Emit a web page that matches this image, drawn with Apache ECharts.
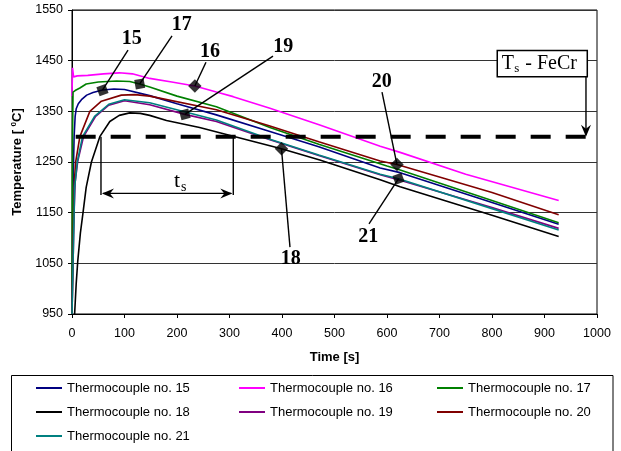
<!DOCTYPE html>
<html><head><meta charset="utf-8">
<script src="https://cdn.jsdelivr.net/npm/echarts@6/dist/echarts.min.js"></script>
<style>html,body{margin:0;padding:0;background:#fff}#c{width:621px;height:451px}</style>
</head><body><div id="c"></div>
<script>
// ---- data (time [s], temperature [°C]) ----
const names = ['Thermocouple no. 15','Thermocouple no. 16','Thermocouple no. 17','Thermocouple no. 18','Thermocouple no. 19','Thermocouple no. 20','Thermocouple no. 21'];
const colors = ['#000080','#FF00FF','#008000','#000000','#800080','#800000','#008080'];
const tc15 = [[0,950],[2,1200],[4,1300],[6,1340],[8,1355],[12,1365],[18,1373],[28,1382],[40,1387],[58,1392],[80,1394],[100,1393],[148,1381],[200,1365],[275,1343],[377,1310],[470,1280],[587,1238],[625,1229],[800,1170],[927,1127]];
const tc16 = [[0,1380],[1,1436],[3,1418],[10,1420],[30,1421],[60,1424],[90,1426],[115,1424],[148,1415],[190,1408],[234,1400],[275,1388],[307,1379],[377,1356],[472,1323],[587,1281],[625,1269],[750,1226],[927,1174]];
const tc17 = [[0,950],[1,1300],[2,1388],[6,1391],[15,1396],[27,1404],[50,1408],[85,1410],[110,1409],[129,1404],[148,1398],[200,1380],[275,1359],[377,1318],[470,1285],[600,1242],[625,1234],[800,1174],[927,1130]];
const tc18 = [[5,950],[8,1010],[11,1055],[16,1110],[21,1150],[27,1200],[37,1250],[53,1300],[72,1330],[90,1342],[110,1347],[130,1346],[148,1342],[180,1332],[243,1318],[307,1301],[399,1276],[472,1254],[587,1215],[625,1201],[800,1145],[927,1103]];
const tc19 = [[0,950],[4,1150],[6,1210],[11,1252],[22,1300],[45,1340],[70,1362],[100,1371],[148,1363],[215,1344],[275,1330],[377,1294],[470,1263],[587,1225],[625,1214],[800,1160],[927,1119]];
const tc20 = [[0,950],[3,1150],[5,1220],[7,1250],[15,1300],[34,1350],[56,1370],[94,1382],[120,1383],[148,1380],[275,1353],[377,1321],[470,1290],[587,1252],[619,1245],[800,1190],[927,1146]];
const tc21 = [[0,950],[3,1100],[5,1200],[10,1250],[20,1300],[43,1340],[70,1364],[100,1373],[148,1367],[275,1333],[377,1295],[470,1264],[587,1226],[622,1217],[800,1158],[927,1116]];
const seriesData = [tc15, tc16, tc17, tc18, tc19, tc20, tc21];

const solidusLine = [[7,1300],[1000,1300]];          // T_s - FeCr
const markerLabels = ['15','17','16','19','18','20','21'];
const markerPoints = [[58,1392],[129,1404],[234,1400],[215,1344],[399,1276],[619,1245],[622,1217]];
const labelCenters = [[113.7,1494],[209,1520],[263,1468],[402.5,1478],[416.6,1059],[590,1408.5],[564.4,1102.6]];
const leaderEnds   = [[106.7,1471],[190.5,1499],[255.2,1447],[382.9,1459],[415.2,1082],[590.5,1388],[565.7,1128]];
const tsBounds = [55.2, 307.2];   // time span above solidus (s)
const tsBottomT = 1185, tsArrowT = 1188, tsLabel = [209.5, 1212];
const feCrBox = [[810,1470],[981.5,1418.4]];
const feCrArrowX = 979;

// ---- styles ----
const markerRot = [20,10,45,15,45,45,20];
const sans = '"Liberation Sans", Arial, sans-serif';
const serif = '"Liberation Serif", "Times New Roman", serif';

const chart = echarts.init(document.getElementById('c'));
const lineSeries = seriesData.map((d,i)=>({
  name: names[i], type:'line', data:d, showSymbol:false, symbol:'none',
  lineStyle:{width:1.6,color:colors[i]}, itemStyle:{color:colors[i]}, z:2, animation:false
}));
const legendText = {fontFamily:sans,fontSize:13,color:'#000',lineHeight:14};
const legendBase = {orient:'vertical', top:381, itemWidth:26, itemHeight:2, itemGap:10, icon:'rect', selectedMode:false, textStyle:legendText, padding:0};

chart.setOption({
  animation:false,
  backgroundColor:'#fff',
  grid:{left:72, right:24, top:10, bottom:137, show:true, borderColor:'#000', borderWidth:1, backgroundColor:'transparent'},
  xAxis:{type:'value', min:0, max:1000, interval:100,
    name:'Time [s]', nameLocation:'middle', nameGap:37,
    nameTextStyle:{fontFamily:sans,fontSize:13,fontWeight:'bold',color:'#000'},
    axisLine:{lineStyle:{color:'#000'}}, axisTick:{show:true,length:4,lineStyle:{color:'#000'}},
    axisLabel:{fontFamily:sans,fontSize:12.5,color:'#000',margin:13,formatter:v=>String(v)}, splitLine:{show:false}},
  yAxis:{type:'value', min:950, max:1550, interval:100,
    name:'Temperature [ {sup|0}C]', nameLocation:'middle', nameGap:46, nameRotate:90,
    nameTextStyle:{fontFamily:sans,fontSize:13,fontWeight:'bold',color:'#000',
      rich:{sup:{fontFamily:sans,fontSize:8,fontWeight:'bold',color:'#000',verticalAlign:'top',padding:[0,0,7,0]}}},
    axisLine:{show:true,lineStyle:{color:'#000'}}, axisTick:{show:true,length:4,lineStyle:{color:'#000'}},
    axisLabel:{fontFamily:sans,fontSize:12.5,color:'#000',margin:9,formatter:v=>String(v)},
    splitLine:{show:true,lineStyle:{color:'#333',width:1}}},
  legend:[
    Object.assign({left:36, data:[names[0],names[3],names[6]]}, legendBase),
    Object.assign({left:239, data:[names[1],names[4]]}, legendBase),
    Object.assign({left:437, data:[names[2],names[5]]}, legendBase)
  ],
  series: lineSeries.concat([
    {type:'line', data:solidusLine, symbol:'none', z:5, silent:true,
     lineStyle:{color:'#000', width:4, type:[20,15]}},
    {type:'scatter', z:6, symbol:'rect', symbolSize:9.5, itemStyle:{color:'#000'},
     data: markerPoints.map((p,i)=>({value:p, symbolRotate:markerRot[i]}))}
  ])
});

function px(p){ return chart.convertToPixel({gridIndex:0}, p); }
const g = [];
// legend frame
g.push({type:'rect', shape:{x:11.5,y:375.5,width:601.5,height:90}, style:{fill:'none',stroke:'#000',lineWidth:1}, z:1});
// leader lines and labels
markerPoints.forEach((p,i)=>{
  const a = px(p), b = px(leaderEnds[i]), c = px(labelCenters[i]);
  g.push({type:'line', shape:{x1:a[0],y1:a[1],x2:b[0],y2:b[1]}, style:{stroke:'#000',lineWidth:1.4}, z:4});
  g.push({type:'text', x:c[0], y:c[1], style:{text:markerLabels[i], font:'bold 20px '+serif, fill:'#000', align:'center', verticalAlign:'middle'}, z:10});
});
// t_s span
const l0 = px([tsBounds[0],1300]), l1 = px([tsBounds[1],1300]);
const yb = px([0,tsBottomT])[1], ya = px([0,tsArrowT])[1];
[l0,l1].forEach(p=>g.push({type:'line', shape:{x1:p[0],y1:p[1],x2:p[0],y2:yb}, style:{stroke:'#000',lineWidth:1.4}, z:4}));
g.push({type:'line', shape:{x1:l0[0]+2,y1:ya,x2:l1[0]-2,y2:ya}, style:{stroke:'#000',lineWidth:1.4}, z:4});
g.push({type:'polygon', shape:{points:[[l0[0]+1,ya],[l0[0]+13,ya-5],[l0[0]+9,ya],[l0[0]+13,ya+5]]}, style:{fill:'#000'}, z:4});
g.push({type:'polygon', shape:{points:[[l1[0]-1,ya],[l1[0]-13,ya-5],[l1[0]-9,ya],[l1[0]-13,ya+5]]}, style:{fill:'#000'}, z:4});
const tl = px(tsLabel);
g.push({type:'text', x:tl[0]-2, y:tl[1], style:{text:'t', font:'22px '+serif, fill:'#000', align:'right', verticalAlign:'middle'}, z:10});
g.push({type:'text', x:tl[0]-1, y:tl[1]+6, style:{text:'s', font:'14px '+serif, fill:'#000', align:'left', verticalAlign:'middle'}, z:10});
// T_s - FeCr box
const b0 = px(feCrBox[0]), b1 = px(feCrBox[1]);
const bh = b1[1]-b0[1];
g.push({type:'rect', shape:{x:b0[0],y:b0[1],width:b1[0]-b0[0],height:bh}, style:{fill:'#fff',stroke:'#000',lineWidth:1.5}, z:8});
g.push({type:'text', x:b0[0]+4.5, y:b0[1]+bh/2, style:{text:'T', font:'20px '+serif, fill:'#000', align:'left', verticalAlign:'middle'}, z:10});
g.push({type:'text', x:b0[0]+17, y:b0[1]+bh/2+5, style:{text:'s', font:'13px '+serif, fill:'#000', align:'left', verticalAlign:'middle'}, z:10});
g.push({type:'text', x:b0[0]+23, y:b0[1]+bh/2, style:{text:' - FeCr', font:'20px '+serif, fill:'#000', align:'left', verticalAlign:'middle'}, z:10});
const ax = px([feCrArrowX,1300]);
g.push({type:'line', shape:{x1:ax[0],y1:b1[1],x2:ax[0],y2:ax[1]-2}, style:{stroke:'#000',lineWidth:1.4}, z:8});
g.push({type:'polygon', shape:{points:[[ax[0],ax[1]],[ax[0]-5,ax[1]-12],[ax[0],ax[1]-8],[ax[0]+5,ax[1]-12]]}, style:{fill:'#000'}, z:8});
chart.setOption({graphic:g});
</script></body></html>
